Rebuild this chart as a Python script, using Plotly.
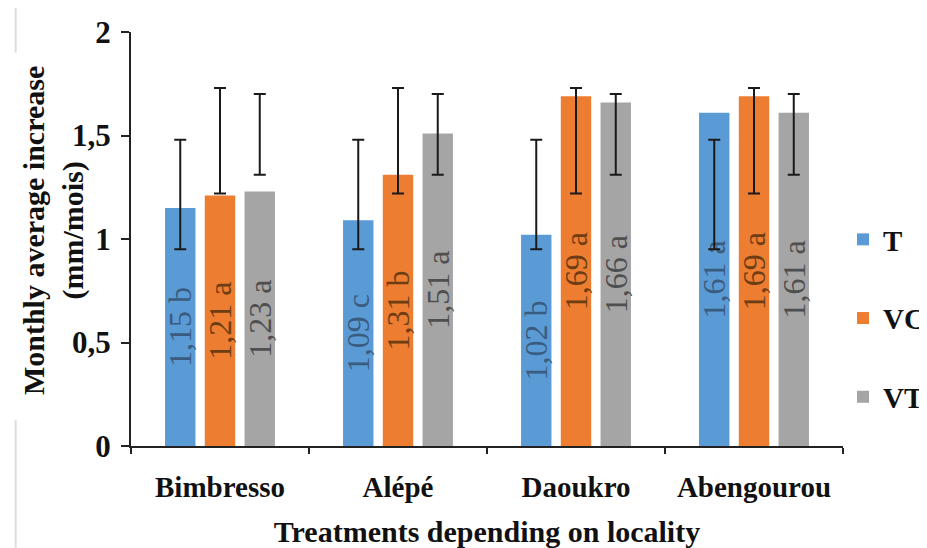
import plotly.graph_objects as go

categories = ["Bimbresso", "Alépé", "Daoukro", "Abengourou"]
series_names = ["T", "VC", "VT"]

values_T = [1.15, 1.09, 1.02, 1.61]
values_VC = [1.21, 1.31, 1.69, 1.69]
values_VT = [1.23, 1.51, 1.66, 1.61]

letters_T = ["b", "c", "b", "a"]
letters_VC = ["a", "b", "a", "a"]
letters_VT = ["a", "a", "a", "a"]

# error bar extents (lower, upper) as drawn in the source figure
err_low = {"T": 0.95, "VC": 1.22, "VT": 1.31}
err_high = {"T": 1.48, "VC": 1.73, "VT": 1.70}

bar_colors = {"T": "#5B9BD5", "VC": "#ED7D31", "VT": "#A5A5A5"}
text_colors = {"T": "#3a5c80", "VC": "#6e3d14", "VT": "#4f4f4f"}

data = {"T": (values_T, letters_T), "VC": (values_VC, letters_VC), "VT": (values_VT, letters_VT)}

SERIF = "Liberation Serif, Times New Roman, serif"

fig = go.Figure()
for name in series_names:
    vals, lets = data[name]
    labels = [f"{v:.2f}".replace(".", ",") + " " + l for v, l in zip(vals, lets)]
    fig.add_trace(go.Bar(
        name=name,
        x=categories,
        y=vals,
        marker=dict(color=bar_colors[name], line=dict(width=0)),
        text=labels,
        textposition="inside",
        insidetextanchor="middle",
        textangle=-90,
        constraintext="none",
        textfont=dict(family=SERIF, size=32, color=text_colors[name]),
        error_y=dict(
            type="data",
            symmetric=False,
            array=[err_high[name] - v for v in vals],
            arrayminus=[v - err_low[name] for v in vals],
            color="#1a1a1a",
            thickness=2,
            width=6,
        ),
        legendgroup=name,
        hoverinfo="x+y+name",
    ))

fig.update_layout(
    width=919,
    height=540,
    autosize=False,
    paper_bgcolor="white",
    plot_bgcolor="white",
    separators=", ",
    barmode="group",
    bargap=0.33,
    bargroupgap=0.235,
    margin=dict(l=123, r=69, t=24, b=102),
    font=dict(family=SERIF, color="#111111"),
    uniformtext=dict(mode="show", minsize=26),
    showlegend=True,
    legend=dict(
        xref="container", yref="container",
        x=0.9086, y=0.425, xanchor="left", yanchor="middle",
        font=dict(family=SERIF, size=29, color="#111111", weight="bold"),
        tracegroupgap=38,
        bgcolor="rgba(0,0,0,0)",
        itemclick=False, itemdoubleclick=False,
    ),
    xaxis=dict(
        type="category",
        range=[-0.5, 3.5],
        showline=True, linecolor="#222222", linewidth=2,
        ticks="outside", tickson="boundaries", ticklen=6, tickwidth=2, tickcolor="#222222",
        tickfont=dict(family=SERIF, size=29, color="#111111", weight="bold"),
        ticklabelstandoff=14,
        showgrid=False, zeroline=False,
        automargin=False,
        title=dict(text="Treatments depending on locality",
                   font=dict(family=SERIF, size=30, color="#111111", weight="bold"),
                   standoff=22),
    ),
    yaxis=dict(
        range=[0, 2],
        dtick=0.5, tick0=0,
        showline=True, linecolor="#222222", linewidth=2,
        ticks="outside", ticklen=8, tickwidth=2, tickcolor="#222222",
        tickfont=dict(family=SERIF, size=31, color="#111111", weight="bold"),
        ticklabelstandoff=4,
        showgrid=False, zeroline=False,
        automargin=False,
    ),
    annotations=[dict(
        text="Monthly average increase<br>(mm/mois)",
        xref="paper", yref="paper",
        x=-0.109, y=0.52,
        xanchor="center", yanchor="middle",
        textangle=-90,
        showarrow=False,
        font=dict(family=SERIF, size=30, color="#111111", weight="bold"),
    )],
    shapes=[
        dict(type="line", xref="paper", yref="paper", x0=-0.162, x1=-0.162, y0=1.06, y1=0.95,
             line=dict(color="#dddddd", width=2)),
        dict(type="line", xref="paper", yref="paper", x0=-0.162, x1=-0.162, y0=0.063, y1=-0.246,
             line=dict(color="#dddddd", width=2)),
    ],
)

fig.write_html("out.html")
